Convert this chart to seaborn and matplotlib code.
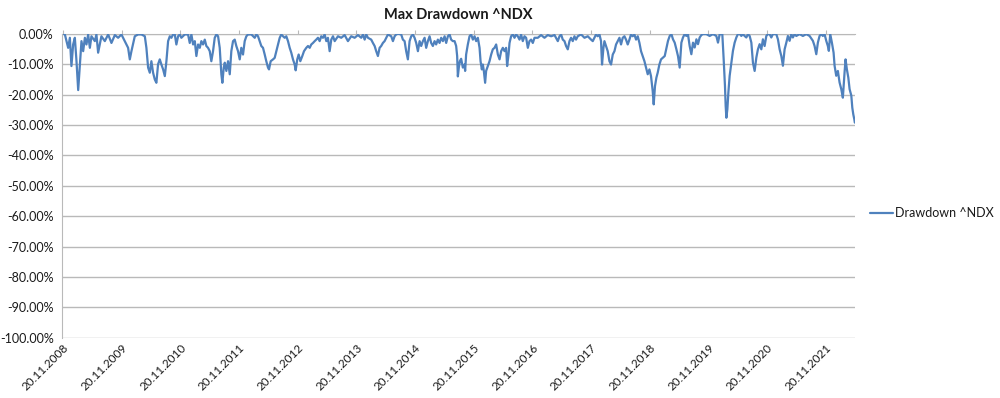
#Grafico de drawdown del indice ^NDX (estilo Excel)
import pandas as pd
import matplotlib
matplotlib.use('Agg')
import matplotlib.pyplot as plt
import seaborn as sns

#años transcurridos desde el 20.11.2008
years = [
    0.000, 0.029, 0.085, 0.114, 0.141, 0.170, 0.199, 0.227, 0.256, 0.285, 0.312, 0.341, 0.370, 0.397,
    0.426, 0.455, 0.482, 0.540, 0.567, 0.596, 0.652, 0.710, 0.767, 0.823, 0.881, 0.937, 0.993, 1.051,
    1.107, 1.136, 1.164, 1.221, 1.278, 1.334, 1.392, 1.419, 1.448, 1.477, 1.504, 1.533, 1.562, 1.589,
    1.618, 1.647, 1.675, 1.704, 1.733, 1.760, 1.789, 1.818, 1.845, 1.874, 1.903, 1.930, 1.959, 1.988,
    2.015, 2.073, 2.129, 2.158, 2.186, 2.215, 2.244, 2.271, 2.300, 2.329, 2.356, 2.385, 2.414, 2.441,
    2.470, 2.499, 2.526, 2.555, 2.584, 2.612, 2.641, 2.669, 2.697, 2.714, 2.738, 2.755, 2.782, 2.811,
    2.840, 2.867, 2.896, 2.925, 2.952, 2.981, 3.010, 3.037, 3.066, 3.095, 3.123, 3.152, 3.208, 3.266,
    3.293, 3.322, 3.351, 3.378, 3.407, 3.436, 3.463, 3.492, 3.509, 3.538, 3.578, 3.606, 3.634, 3.663,
    3.692, 3.719, 3.748, 3.777, 3.804, 3.833, 3.862, 3.889, 3.918, 3.947, 3.964, 3.991, 4.015, 4.043,
    4.077, 4.106, 4.145, 4.174, 4.203, 4.230, 4.259, 4.288, 4.315, 4.344, 4.373, 4.400, 4.429, 4.458,
    4.486, 4.514, 4.543, 4.571, 4.600, 4.629, 4.685, 4.741, 4.799, 4.855, 4.911, 4.969, 5.026, 5.082,
    5.111, 5.140, 5.167, 5.196, 5.252, 5.281, 5.310, 5.337, 5.366, 5.395, 5.422, 5.451, 5.480, 5.508,
    5.537, 5.593, 5.622, 5.651, 5.678, 5.707, 5.763, 5.792, 5.821, 5.848, 5.877, 5.906, 5.934, 5.963,
    5.991, 6.019, 6.048, 6.077, 6.104, 6.133, 6.162, 6.189, 6.218, 6.247, 6.274, 6.303, 6.332, 6.359,
    6.388, 6.417, 6.445, 6.474, 6.503, 6.530, 6.559, 6.588, 6.615, 6.644, 6.673, 6.700, 6.717, 6.729,
    6.746, 6.763, 6.785, 6.814, 6.843, 6.853, 6.870, 6.899, 6.928, 6.956, 6.985, 7.014, 7.041, 7.070,
    7.099, 7.116, 7.138, 7.155, 7.172, 7.194, 7.211, 7.240, 7.269, 7.297, 7.325, 7.354, 7.382, 7.411,
    7.440, 7.467, 7.496, 7.525, 7.552, 7.569, 7.593, 7.610, 7.637, 7.666, 7.695, 7.722, 7.751, 7.780,
    7.807, 7.836, 7.865, 7.893, 7.922, 7.950, 7.978, 8.007, 8.036, 8.092, 8.148, 8.206, 8.262, 8.319,
    8.377, 8.433, 8.462, 8.489, 8.518, 8.547, 8.574, 8.603, 8.632, 8.659, 8.688, 8.717, 8.744, 8.773,
    8.830, 8.888, 8.944, 9.000, 9.029, 9.058, 9.085, 9.114, 9.143, 9.170, 9.187, 9.211, 9.228, 9.256,
    9.284, 9.313, 9.341, 9.370, 9.399, 9.426, 9.455, 9.484, 9.511, 9.540, 9.569, 9.596, 9.625, 9.654,
    9.681, 9.710, 9.739, 9.767, 9.796, 9.825, 9.852, 9.881, 9.910, 9.937, 9.966, 9.995, 10.022, 10.051,
    10.068, 10.090, 10.114, 10.136, 10.165, 10.193, 10.256, 10.312, 10.341, 10.370, 10.397, 10.426, 10.455, 10.482,
    10.511, 10.540, 10.567, 10.596, 10.625, 10.652, 10.681, 10.710, 10.738, 10.767, 10.796, 10.823, 10.852, 10.881,
    10.908, 10.966, 11.022, 11.078, 11.136, 11.164, 11.193, 11.238, 11.261, 11.283, 11.295, 11.307, 11.324, 11.341,
    11.363, 11.392, 11.419, 11.448, 11.477, 11.504, 11.533, 11.562, 11.589, 11.618, 11.647, 11.675, 11.704, 11.733,
    11.760, 11.789, 11.818, 11.845, 11.874, 11.903, 11.930, 11.959, 11.988, 12.015, 12.044, 12.073, 12.100, 12.158,
    12.186, 12.215, 12.244, 12.271, 12.300, 12.329, 12.356, 12.385, 12.414, 12.441, 12.470, 12.499, 12.555, 12.612,
    12.669, 12.726, 12.782, 12.811, 12.840, 12.867, 12.896, 12.925, 12.952, 12.981, 13.010, 13.037, 13.054, 13.078,
    13.106, 13.135, 13.152, 13.180, 13.208, 13.237, 13.266, 13.293, 13.322, 13.339, 13.361, 13.386, 13.408, 13.437,
    13.454, 13.471, 13.488, 13.497,
]

#drawdown en porcentaje
drawdown = [
    0.0, -0.2, -4.6, -1.3, -10.6, -3.5, -1.3, -9.0, -18.5, -10.1, -2.4, -5.7, -1.3, -3.5,
    -0.2, -4.6, -0.8, -2.4, -0.2, -6.2, -0.8, -2.4, -0.2, -3.0, -0.4, -1.3, -0.2, -2.4,
    -4.6, -8.4, -5.7, -0.8, -0.2, -0.2, -0.8, -4.6, -11.1, -12.8, -9.0, -12.8, -15.0, -16.1,
    -10.0, -8.4, -10.1, -11.7, -13.9, -9.0, -2.4, -0.8, -1.3, -0.2, -0.2, -3.5, -0.8, -0.2,
    -1.3, -0.2, -0.2, -3.0, -0.2, -3.5, -2.4, -7.3, -3.5, -4.6, -2.4, -3.5, -1.9, -4.0,
    -4.6, -5.7, -9.0, -5.7, -1.3, -0.2, -0.8, -4.6, -13.3, -16.1, -11.1, -9.5, -12.2, -9.0,
    -13.3, -5.7, -2.4, -1.9, -4.0, -5.7, -8.4, -4.6, -6.8, -2.4, -0.8, -0.2, -0.2, -1.3,
    -0.2, -0.8, -2.4, -4.0, -4.6, -6.8, -9.0, -11.1, -11.7, -9.0, -8.4, -7.9, -5.7, -3.5,
    -1.3, -0.2, -0.8, -1.3, -0.8, -2.4, -4.6, -6.2, -8.4, -10.1, -12.0, -8.4, -6.8, -9.0,
    -7.3, -5.7, -4.6, -4.0, -4.6, -3.5, -3.0, -2.4, -1.9, -1.3, -2.4, -0.8, -1.3, -0.2,
    -2.4, -1.3, -5.7, -1.9, -0.8, -2.4, -0.8, -1.3, -0.4, -2.4, -0.8, -1.3, -0.4, -1.3,
    -0.2, -1.9, -0.2, -1.3, -1.9, -3.0, -4.0, -5.7, -7.3, -4.6, -4.0, -3.0, -2.4, -1.3,
    -0.2, -0.8, -2.4, -0.8, -0.2, 0.0, -0.2, -1.9, -2.4, -5.7, -8.4, -2.4, -0.8, -0.2,
    -1.3, -3.0, -5.7, -2.4, -4.0, -2.4, -1.3, -4.6, -2.4, -0.8, -3.0, -4.0, -2.4, -3.5,
    -1.9, -3.0, -1.3, -2.4, -0.8, -3.0, -0.8, -0.2, -1.9, -2.4, -2.4, -4.0, -7.3, -14.0,
    -11.0, -9.0, -8.2, -11.1, -10.1, -12.2, -6.8, -3.5, -0.8, -0.2, -1.9, -0.8, -2.4, -1.3,
    -4.6, -9.0, -11.7, -10.1, -12.2, -16.1, -12.2, -10.6, -9.0, -6.8, -5.1, -4.6, -3.5, -6.8,
    -8.4, -5.7, -4.6, -5.7, -4.6, -10.6, -6.8, -3.0, -0.8, -0.2, -1.3, -0.2, -0.8, -1.9,
    -0.2, -2.4, -0.8, -1.3, -4.6, -2.4, -1.9, -3.0, -1.3, -1.3, -0.4, -1.3, -0.4, -0.8,
    -0.4, -2.4, -0.8, -0.2, -1.9, -2.4, -4.0, -5.1, -2.4, -1.3, -2.4, -0.8, -1.9, -0.8,
    -0.2, -1.3, -0.8, -1.9, -2.4, -1.3, -0.2, -0.8, -0.2, -2.4, -10.1, -4.6, -2.4, -4.0,
    -5.7, -9.0, -10.1, -6.8, -5.7, -3.5, -2.4, -1.3, -3.5, -1.3, -0.8, -1.9, -3.5, -1.9,
    -0.2, -0.8, -0.2, -1.9, -0.8, -3.0, -5.7, -7.3, -9.0, -11.1, -13.3, -11.7, -13.9, -18.8,
    -23.2, -17.2, -14.4, -12.8, -10.1, -8.4, -7.3, -2.3, -0.7, -0.1, -1.8, -2.9, -5.1, -7.3,
    -11.1, -2.9, -1.2, -0.1, -0.7, -0.1, -4.0, -6.7, -2.9, -4.5, -1.8, -3.4, -1.2, -0.4,
    -0.1, -0.1, -0.7, -0.1, -0.7, -2.9, -0.1, -0.1, -8.4, -17.1, -23.7, -27.6, -24.8, -19.3,
    -13.8, -9.5, -5.6, -2.9, -1.2, -0.1, 0.0, -0.7, -0.1, -0.7, -1.2, -0.1, -0.7, -2.9,
    -9.5, -12.2, -7.8, -5.1, -3.4, -5.1, -1.8, -4.0, -0.7, -0.1, -0.1, -1.2, -0.1, -0.1,
    -1.8, -5.1, -7.3, -10.5, -5.1, -2.9, -0.7, -2.3, -0.1, -1.2, -0.1, -0.7, -0.1, -0.7,
    -0.1, -0.7, -2.3, -4.0, -6.7, -2.9, -0.7, -0.1, -0.7, -0.1, -2.3, -4.0, -5.6, -0.1,
    -2.9, -6.2, -10.5, -13.8, -12.2, -16.0, -18.2, -21.0, -12.7, -8.4, -11.6, -14.4, -18.2, -20.3,
    -24.3, -26.5, -28.1, -29.2,
]

#etiquetas del eje x (una por año)
tick_years = list(range(14))
tick_labels = ['20.11.%d' % (2008 + k) for k in tick_years]

y_ticks = list(range(0, -101, -10))

df = pd.DataFrame({'Años': years, 'Drawdown': drawdown})

sns.set_style('white')
plt.rcParams['font.family'] = ['Lato', 'DejaVu Sans']

grid_color = '#B9B9B9'
text_color = '#1a1a1a'

fig = plt.figure(figsize=(10, 3.98), dpi=100)
ax = fig.add_axes([0.062, 0.151, 0.793, 0.764])

sns.lineplot(data=df, x='Años', y='Drawdown', ax=ax, color='#4F81BD',
             linewidth=1.6, label='Drawdown ^NDX', legend=False)

ax.set_xlim(-0.02, 13.5)
ax.set_ylim(-100, 0)
ax.set_yticks(y_ticks)
ax.set_yticklabels(['%.2f%%' % v for v in y_ticks], fontsize=9, color=text_color)
ax.yaxis.grid(True, color=grid_color, linewidth=1)
ax.xaxis.grid(False)
ax.set_axisbelow(True)

ax.set_xticks(tick_years)
ax.set_xticklabels(tick_labels, rotation=45, ha='right', rotation_mode='anchor',
                   fontsize=8.5, color=text_color)
ax.tick_params(axis='x', length=0, pad=3)
ax.tick_params(axis='y', length=0, pad=6)
ax.set_xlabel('')
ax.set_ylabel('')

for side in ['top', 'right', 'bottom']:
    ax.spines[side].set_visible(False)
ax.spines['left'].set_color(grid_color)

#eje horizontal cruzando en 0 (marcas pequeñas arriba)
top = ax.secondary_xaxis('top')
top.set_xticks(tick_years)
top.set_xticklabels([])
top.tick_params(axis='x', length=3, color=grid_color, direction='out')
top.spines['top'].set_color(grid_color)

ax.set_title('Max Drawdown ^NDX', fontsize=10.5, fontweight='bold', color=text_color, pad=11)

#leyenda a la derecha del area de graficacion
leg = ax.legend(loc='center left', bbox_to_anchor=(1.005, 0.411), frameon=False,
                fontsize=9, handlelength=1.8, handletextpad=0.2)
for txt in leg.get_texts():
    txt.set_color(text_color)

fig.savefig('out.png', dpi=100)
